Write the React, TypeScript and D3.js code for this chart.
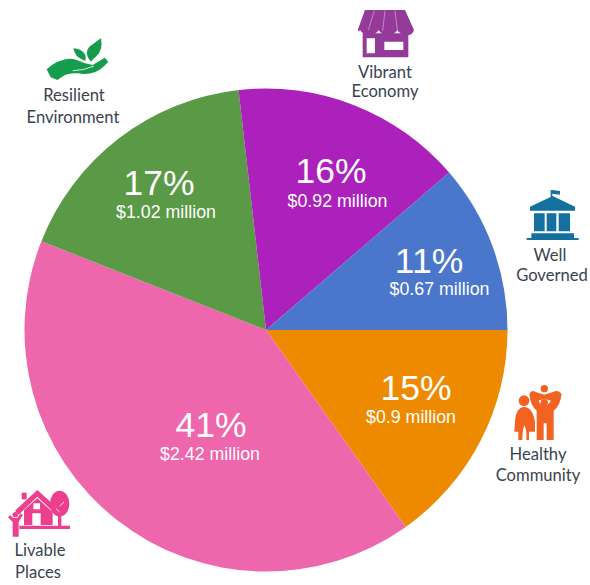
import React from "react";
import * as d3 from "d3";

const categories = ["Healthy Community", "Livable Places", "Resilient Environment", "Vibrant Economy", "Well Governed"];
const amounts = [0.9, 2.42, 1.02, 0.92, 0.67];
const percentLabels = ["15%", "41%", "17%", "16%", "11%"];
const amountLabels = ["$0.9 million", "$2.42 million", "$1.02 million", "$0.92 million", "$0.67 million"];
const sliceColors = ["#EE8A00", "#EE66AB", "#5A9A46", "#AC20BC", "#4A76CC"];
const percentAnchors: [number, number][] = [[416, 400], [211, 437], [159, 195], [331, 183], [429, 273]];
const amountAnchors: [number, number][] = [[411, 423], [210, 460], [166, 218], [337.5, 207], [439.5, 295]];
const outerLabelLines = [["Healthy", "Community"], ["Livable", "Places"], ["Resilient", "Environment"], ["Vibrant", "Economy"], ["Well", "Governed"]];
const outerAnchors: [number, number, number, number][] = [
  [538, 460, 538, 481],
  [40, 556, 38, 578],
  [74, 101, 73, 123],
  [385, 78, 385, 97],
  [550, 261, 552, 281],
];

const W = 590, H = 585, CX = 266, CY = 330, R = 241.5;
const LABEL = "#39434f";

function Zoomed({ x, y, children }: { x: number; y: number; children: React.ReactNode }) {
  return <g transform={`translate(${x},${y}) scale(${1 / 3})`}>{children}</g>;
}

export default function App() {
  const pie = d3.pie<number>().sort(null).startAngle(Math.PI / 2).endAngle(Math.PI / 2 + 2 * Math.PI);
  const arc = d3.arc<d3.PieArcDatum<number>>().innerRadius(0).outerRadius(R);
  const arcs = pie(amounts);
  return (
    <svg width={W} height={H} viewBox={`0 0 ${W} ${H}`} style={{ position: "absolute", left: 0, top: 0, background: "#fff" }}>
      <g transform={`translate(${CX},${CY})`}>
        {arcs.map((a, i) => <path key={categories[i]} d={arc(a) ?? ""} fill={sliceColors[i]} />)}
      </g>
      <g fontFamily="'Liberation Sans', Arial, sans-serif" fill="#fff" textAnchor="middle">
        {percentLabels.map((t, i) => <text key={t} x={percentAnchors[i][0]} y={percentAnchors[i][1]} fontSize={35.5}>{t}</text>)}
        {amountLabels.map((t, i) => <text key={t} x={amountAnchors[i][0]} y={amountAnchors[i][1]} fontSize={17.8}>{t}</text>)}
      </g>
      <g fontFamily="Lato, 'Open Sans', sans-serif" fontSize={16.6} fill={LABEL} textAnchor="middle">
        {outerLabelLines.map((lines, i) => (
          <text key={lines[0]}>
            <tspan x={outerAnchors[i][0]} y={outerAnchors[i][1]}>{lines[0]}</tspan>
            <tspan x={outerAnchors[i][2]} y={outerAnchors[i][3]}>{lines[1]}</tspan>
          </text>
        ))}
      </g>

      {/* Vibrant Economy: storefront */}
      <Zoomed x={340} y={0}>
        <path fill="#953A98" d="M75 30 H195 L222 90 Q218 106 200 106 Q182 106 172 90 Q162 106 144 106 Q126 106 116 90 Q106 106 88 106 Q70 106 60 90 Q54 100 54 88 Z" />
        <path fill="#953A98" fillRule="evenodd" d="M68 100 H205 V172 H68 Z M80 115 V160 H105 V115 Z M133 125 V150 H190 V125 Z" />
        <path fill="none" stroke="#C59AC6" strokeWidth={2.5} d="M103 32 L85 90 M135 32 L128 92 M165 32 L172 90" />
      </Zoomed>

      {/* Resilient Environment: hand and leaves */}
      <Zoomed x={30} y={30}>
        <path fill="#159C4C" d="M50 118 Q70 98 92 92 Q118 82 140 90 Q160 100 188 105 L224 83 L235 95 Q215 118 196 126 Q170 136 145 130 Q120 128 105 135 L82 150 L62 142 Z" />
        <path fill="#159C4C" d="M180 92 Q162 68 178 50 Q195 38 213 25 Q220 60 198 80 Q190 85 184 94 Z" />
        <path fill="#159C4C" d="M160 90 Q135 82 130 55 Q155 55 166 75 Q168 82 166 92 Z" />
        <path fill="none" stroke="#fff" strokeWidth={2.5} d="M128 122 Q160 122 192 108" />
      </Zoomed>

      {/* Well Governed: civic building */}
      <Zoomed x={510} y={190}>
        <g fill="#14709F">
          <path d="M122 0 H127 V22 H122 Z M127 0 L150 3 V14 L127 11 Z" />
          <path d="M60 50 L128 18 L195 50 V62 H60 Z" />
          <path d="M72 70 H104 V124 H72 Z M110 70 H139 V124 H110 Z M146 70 H180 V124 H146 Z" />
          <path d="M64 130 H192 V144 H64 Z M50 144 H206 V150 H50 Z" />
        </g>
      </Zoomed>

      {/* Healthy Community: family */}
      <Zoomed x={485} y={380}>
        <g fill="#F26322">
          <circle cx="117" cy="62" r="16" />
          <path d="M90 125 Q92 84 117 80 Q143 82 150 125 V155 H132 L132 180 H124 Q126 150 118 136 Q112 150 112 180 H100 V155 H88 Z" />
          <circle cx="178" cy="26" r="11" />
          <path fillRule="evenodd" d="M133 42 Q140 28 152 36 L178 44 L204 36 Q220 28 230 42 Q226 76 206 92 V180 H185 V130 H176 V180 H155 V92 Q136 76 133 42 Z M160 62 Q178 92 198 62 L178 56 Z" />
          <circle cx="178" cy="68" r="11" />
        </g>
      </Zoomed>

      {/* Livable Places: house, tree and figure */}
      <Zoomed x={0} y={480}>
        <g fill="#EE3F8E">
          <ellipse cx="179" cy="71" rx="29" ry="39" />
          <path d="M174 60 H184 V146 H174 Z" />
          <path d="M65 38 H80 V58 H65 Z" />
          <path d="M45 92 L112 30 L176 88 L165 100 L112 50 L56 104 Z" />
          <path d="M72 90 L112 55 L158 96 V135 H72 Z" />
          <path d="M58 137 H210 V147 H58 Z" />
          <circle cx="46" cy="104" r="8" />
          <path d="M24 112 L30 106 L40 114 H52 L62 100 L68 106 L56 126 V170 H38 V126 Z" />
        </g>
        <path fill="#fff" d="M97 100 H122 V135 H97 Z M100 70 H120 V88 H100 Z" />
        <path fill="none" stroke="#fff" strokeWidth={2.5} d="M179 78 L192 66 M179 96 L168 86" />
      </Zoomed>
    </svg>
  );
}
